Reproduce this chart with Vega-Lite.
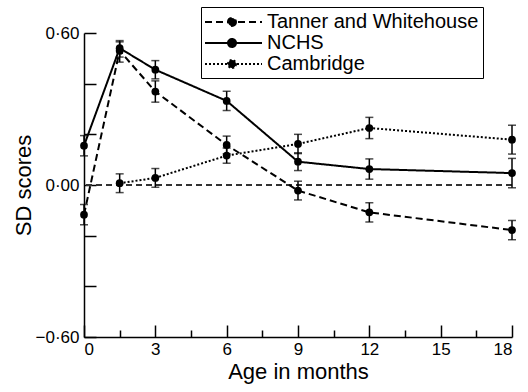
{
  "$schema": "https://vega.github.io/schema/vega-lite/v6.json",
  "autosize": "none",
  "width": 428,
  "height": 304,
  "padding": {"left": 84, "top": 33, "right": 16, "bottom": 55},
  "background": "white",
  "data": {"values": [
    {"series": "Tanner and Whitehouse", "age": 0, "sd": -0.117, "lo": -0.157, "hi": -0.077},
    {"series": "Tanner and Whitehouse", "age": 1.5, "sd": 0.53, "lo": 0.485, "hi": 0.565},
    {"series": "Tanner and Whitehouse", "age": 3, "sd": 0.369, "lo": 0.327, "hi": 0.411},
    {"series": "Tanner and Whitehouse", "age": 6, "sd": 0.158, "lo": 0.123, "hi": 0.193},
    {"series": "Tanner and Whitehouse", "age": 9, "sd": -0.022, "lo": -0.059, "hi": 0.015},
    {"series": "Tanner and Whitehouse", "age": 12, "sd": -0.108, "lo": -0.146, "hi": -0.07},
    {"series": "Tanner and Whitehouse", "age": 18, "sd": -0.178, "lo": -0.216, "hi": -0.14},
    {"series": "NCHS", "age": 0, "sd": 0.155, "lo": 0.115, "hi": 0.195},
    {"series": "NCHS", "age": 1.5, "sd": 0.54, "lo": 0.505, "hi": 0.57},
    {"series": "NCHS", "age": 3, "sd": 0.455, "lo": 0.419, "hi": 0.491},
    {"series": "NCHS", "age": 6, "sd": 0.332, "lo": 0.294, "hi": 0.37},
    {"series": "NCHS", "age": 9, "sd": 0.092, "lo": 0.057, "hi": 0.127},
    {"series": "NCHS", "age": 12, "sd": 0.063, "lo": 0.023, "hi": 0.103},
    {"series": "NCHS", "age": 18, "sd": 0.047, "lo": -0.011, "hi": 0.105},
    {"series": "Cambridge", "age": 1.5, "sd": 0.007, "lo": -0.03, "hi": 0.044},
    {"series": "Cambridge", "age": 3, "sd": 0.028, "lo": -0.009, "hi": 0.065},
    {"series": "Cambridge", "age": 6, "sd": 0.116, "lo": 0.086, "hi": 0.146},
    {"series": "Cambridge", "age": 9, "sd": 0.162, "lo": 0.124, "hi": 0.2},
    {"series": "Cambridge", "age": 12, "sd": 0.225, "lo": 0.183, "hi": 0.267},
    {"series": "Cambridge", "age": 18, "sd": 0.179, "lo": 0.122, "hi": 0.236}
  ]},
  "resolve": {"axis": {"x": "independent"}},
  "layer": [
    {
      "mark": {"type": "rule", "strokeDash": [6, 4], "strokeWidth": 1, "color": "#333333"},
      "encoding": {"y": {"datum": 0, "type": "quantitative", "scale": {"domain": [-0.6, 0.6]}, "title": "SD scores"}}
    },
    {
      "mark": {"type": "errorbar", "ticks": {"size": 8, "thickness": 1.5, "color": "black"}, "rule": {"strokeWidth": 1.5, "color": "black"}},
      "encoding": {
        "x": {"field": "age", "type": "quantitative", "scale": {"domain": [0, 18]}, "axis": null},
        "y": {"field": "lo", "type": "quantitative", "title": "SD scores"},
        "y2": {"field": "hi"},
        "detail": {"field": "series"}
      }
    },
    {
      "mark": {"type": "line", "strokeWidth": 2, "color": "black"},
      "encoding": {
        "x": {"field": "age", "type": "quantitative", "title": "Age in months", "axis": {"orient": "bottom", "values": [0, 3, 6, 9, 12, 15, 18]}},
        "y": {"field": "sd", "type": "quantitative", "title": "SD scores"},
        "strokeDash": {
          "field": "series", "type": "nominal",
          "scale": {"domain": ["Tanner and Whitehouse", "NCHS", "Cambridge"], "range": [[7, 4], [1, 0], [2, 2]]},
          "legend": {"title": null}
        }
      }
    },
    {
      "mark": {"type": "point", "filled": true, "size": 60, "color": "black", "opacity": 1},
      "encoding": {
        "x": {"field": "age", "type": "quantitative", "axis": {"orient": "bottom", "values": [1.5, 4.5, 7.5, 10.5, 13.5, 16.5], "tickSize": -7, "labels": false, "domain": false, "title": null}},
        "y": {"field": "sd", "type": "quantitative", "title": "SD scores"},
        "detail": {"field": "series"}
      }
    }
  ],
  "config": {
    "view": {"stroke": null},
    "font": "Liberation Sans",
    "axis": {
      "grid": false,
      "domainColor": "black",
      "domainWidth": 1.5,
      "tickColor": "black",
      "tickWidth": 1.5,
      "tickSize": -12,
      "labelFont": "Liberation Sans",
      "labelFontSize": 17,
      "labelColor": "black",
      "titleFont": "Liberation Sans",
      "titleFontSize": 22,
      "titleFontWeight": "normal",
      "titleColor": "black"
    },
    "axisX": {"labelPadding": 16, "titlePadding": 4},
    "axisY": {
      "values": [-0.6, -0.3, 0, 0.3, 0.6],
      "labelPadding": 17,
      "titlePadding": 0,
      "labelExpr": "abs(datum.value) < 0.01 ? '0·00' : (abs(datum.value - 0.6) < 0.01 ? '0·60' : (abs(datum.value + 0.6) < 0.01 ? '−0·60' : ''))"
    },
    "legend": {
      "orient": "none",
      "legendX": 117,
      "legendY": -26,
      "padding": 4,
      "rowPadding": 0,
      "strokeColor": "black",
      "fillColor": "white",
      "symbolType": "M-1.1,0L4.6,0M2,0A0.4,0.4,0,1,1,1.2,0A0.4,0.4,0,1,1,2,0Z",
      "symbolSize": 400,
      "symbolStrokeWidth": 2,
      "symbolStrokeColor": "black",
      "symbolFillColor": "black",
      "labelOffset": 40,
      "labelFont": "Liberation Sans",
      "labelFontSize": 20,
      "labelColor": "black",
      "labelLimit": 400
    }
  }
}
